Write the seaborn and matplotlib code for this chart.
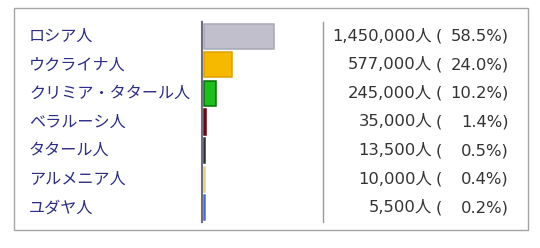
import matplotlib
matplotlib.use("Agg")
import matplotlib.pyplot as plt
import matplotlib.transforms as mtransforms
from matplotlib.patches import Rectangle
import seaborn as sns
import pandas as pd

categories = ["ロシア人", "ウクライナ人", "クリミア・タタール人", "ベラルーシ人",
              "タタール人", "アルメニア人", "ユダヤ人"]
values = [1450000, 577000, 245000, 35000, 13500, 10000, 5500]
percents = [58.5, 24.0, 10.2, 1.4, 0.5, 0.4, 0.2]
colors = ["#c0bfcb", "#f7b900", "#1bc01b", "#8a1020", "#4a4a4a", "#eadc98", "#5577cc"]
edges = ["#a8a7b5", "#e0a000", "#0a700a", "#6a0010", "#303030", "#e2d088", "#4a6ccc"]

W, H = 540, 248
sns.set_theme(style="white")
plt.rcParams["font.family"] = ["Noto Sans CJK JP", "DejaVu Sans"]

fig = plt.figure(figsize=(W / 100, H / 100), dpi=100)
fig.patch.set_facecolor("white")

# outer frame
fig.add_artist(Rectangle((14 / W, 1 - 230 / H), (528 - 14) / W, (230 - 8) / H,
                         transform=fig.transFigure, fill=False,
                         edgecolor="#a4a4a4", lw=1.0))

ax = fig.add_axes([202 / W, 1 - 222 / H, (323 - 202) / W, 200 / H])
df = pd.DataFrame({"cat": categories, "val": values})
sns.barplot(data=df, y="cat", x="val", hue="cat", palette=colors, legend=False,
            orient="h", width=0.88, ax=ax, saturation=1)
for p, ec in zip(ax.patches, edges):
    p.set_edgecolor(ec)
    p.set_linewidth(1.1)

ax.set_xlim(-0.05e6, 2.47e6)
ax.set_ylim(len(categories) - 0.5, -0.5)
ax.set_xticks([])
ax.set_yticks([])
ax.set_xlabel("")
ax.set_ylabel("")
ax.set_facecolor("white")
for s in ["top", "bottom"]:
    ax.spines[s].set_visible(False)
ax.spines["left"].set_color("#6e6e80")
ax.spines["left"].set_linewidth(1.5)
ax.spines["right"].set_color("#9a9aa4")
ax.spines["right"].set_linewidth(1.0)

trans = mtransforms.blended_transform_factory(fig.transFigure, ax.transData)
for i, (c, v, pc) in enumerate(zip(categories, values, percents)):
    fig.text(29 / W, i, c, transform=trans, ha="left", va="center",
             fontsize=11.6, color="#2b2d86",
             family=["Noto Sans CJK JP", "DejaVu Sans"])
    fig.text(432 / W, i, f"{v:,}人", transform=trans, ha="right", va="center",
             fontsize=11.8, color="#333333",
             family=["DejaVu Sans", "Noto Sans CJK JP"])
    fig.text(436 / W, i, "(", transform=trans, ha="left", va="center",
             fontsize=11.8, color="#333333", family=["DejaVu Sans"])
    fig.text(509 / W, i, f"{pc:.1f}%)", transform=trans, ha="right", va="center",
             fontsize=11.8, color="#333333", family=["DejaVu Sans"])

fig.savefig("out.png", dpi=100, facecolor="white")
